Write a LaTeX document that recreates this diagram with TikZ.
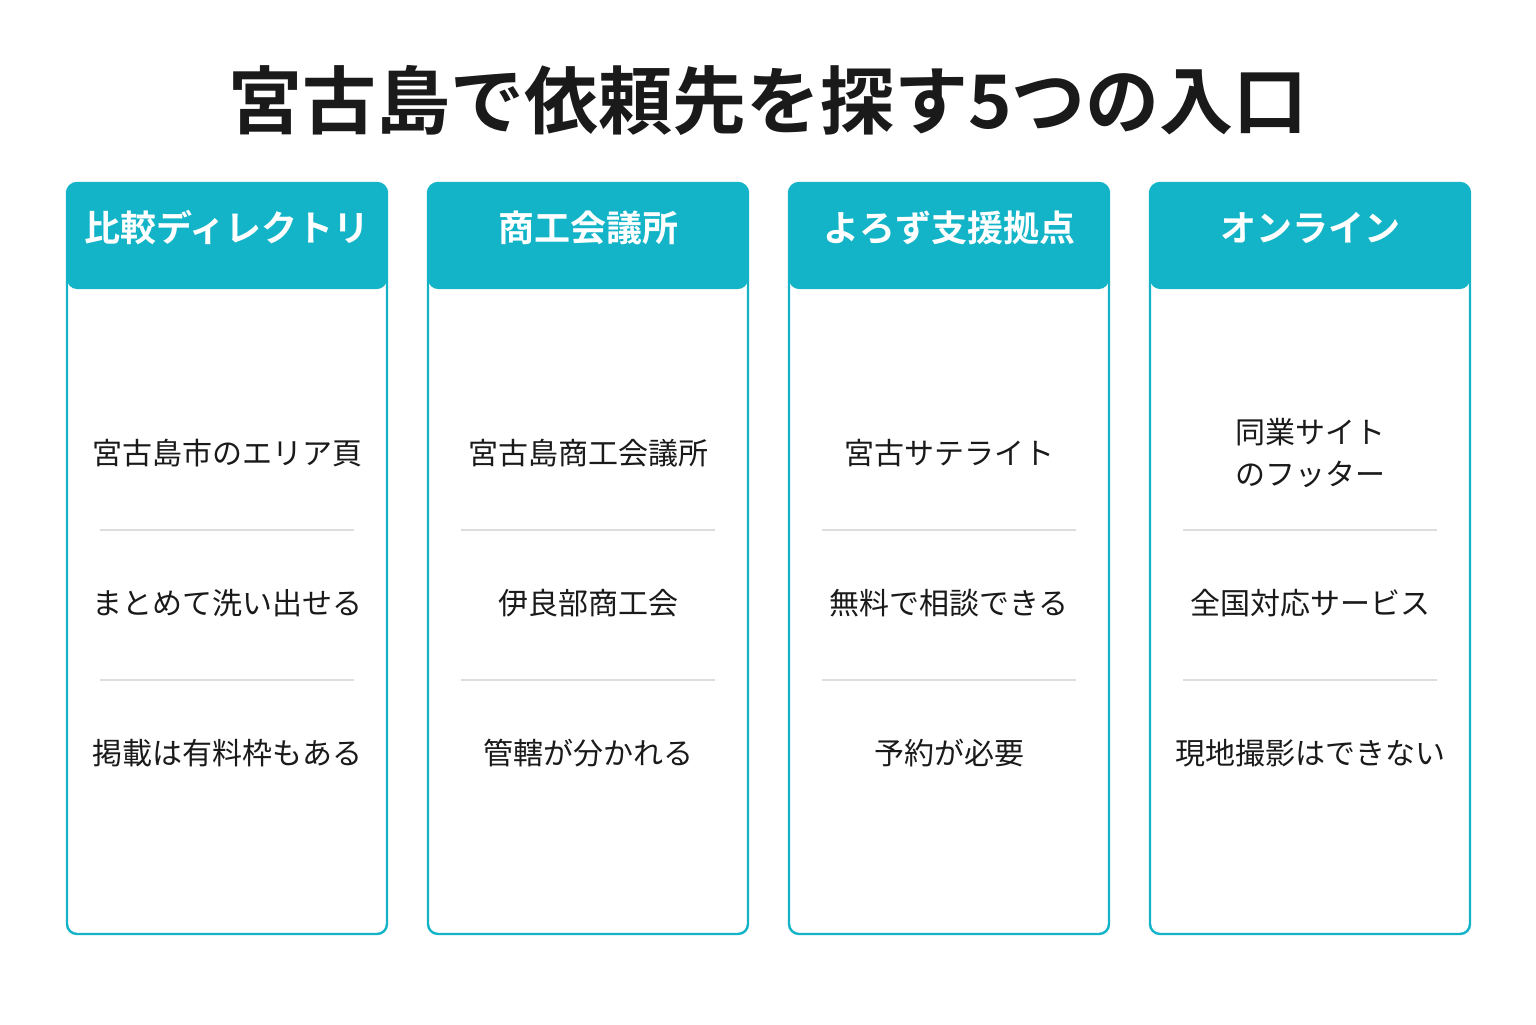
\documentclass[tikz,border=0pt]{standalone}
\usepackage{fontspec}
\setmainfont{Noto Sans CJK JP}[BoldFont={* Bold}]
\definecolor{teal}{HTML}{14B4C8}
\definecolor{divg}{HTML}{DDDDDD}
\definecolor{txt}{HTML}{1A1A1A}
\begin{document}
\begin{tikzpicture}[x=0.5pt,y=-0.5pt,
  card/.style={draw=teal,line width=1.2pt,rounded corners=5pt,fill=white},
  head/.style={fill=teal,rounded corners=5pt},
  htext/.style={text=white,font=\bfseries\fontsize{18}{22}\selectfont,anchor=center},
  btext/.style={text=txt,font=\fontsize{15}{21}\selectfont,anchor=center,align=center},
  divl/.style={draw=divg,line width=0.6pt}]
\useasboundingbox (0,0) rectangle (1536,1024);
\node[text=txt,font=\bfseries\fontsize{37}{44}\selectfont] (title) at (768,100) {宮古島で依頼先を探す5つの入口};
\foreach \i/\h/\a/\b/\c in {0/比較ディレクトリ/宮古島市のエリア頁/まとめて洗い出せる/掲載は有料枠もある,
 1/商工会議所/宮古島商工会議所/伊良部商工会/管轄が分かれる,
 2/よろず支援拠点/宮古サテライト/無料で相談できる/予約が必要,
 3/オンライン/{同業サイト\\のフッター}/全国対応サービス/現地撮影はできない}{
  \pgfmathsetmacro{\x}{67+361*\i}
  \draw[card] (\x,183) rectangle ++(320,751);
  \fill[head] (\x,183) rectangle ++(320,106);
  \node[htext] (h\i) at (\x+160,228) {\h};
  \node[btext] (a\i) at (\x+160,453) {\a};
  \node[btext] (b\i) at (\x+160,603) {\b};
  \node[btext] (c\i) at (\x+160,753) {\c};
  \draw[divl] (\x+33,530) -- (\x+287,530);
  \draw[divl] (\x+33,680) -- (\x+287,680);
}
\end{tikzpicture}
\end{document}
